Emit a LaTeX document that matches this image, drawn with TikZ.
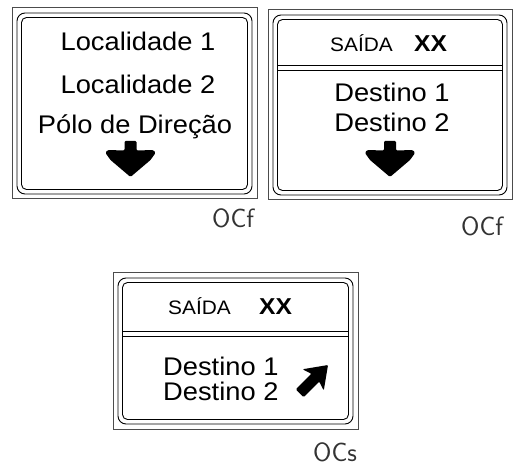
\documentclass[tikz,border=0pt]{standalone}
\usepackage{fontspec}
\setmainfont{Liberation Sans}
\newfontfamily\signfont[FakeStretch=1.07]{Liberation Sans}
\newcommand\signframe[4]{%
  \draw[outerframe] (#1,#2) rectangle (#3,#4);
  \draw[innerline,rounded corners=8pt] (#1+5,#2+5) rectangle (#3-5,#4-5);
  \draw[innerline,rounded corners=5pt] (#1+9.5,#2+9.5) rectangle (#3-9.5,#4-9.5);
}
\newcommand\signdivider[3]{%
  \draw[innerline] (#1+9.5,#3) -- (#2-9.5,#3);
  \draw[innerline] (#1+9.5,#3+5.7) -- (#2-9.5,#3+5.7);
}
\newcommand\downarrowshape[1]{%
  \fill[rounded corners=1.2pt] (#1-6,141) -- (#1+6,141) -- (#1+6,150.5) -- (#1+23,150)
    -- (#1+25,153) -- (#1+20,160) -- (#1,177) -- (#1-20,160) -- (#1-25,153) -- (#1-23,150) -- (#1-6,150.5) -- cycle;
}
\begin{document}
\begin{tikzpicture}[x=1pt,y=-1pt,
  outerframe/.style={draw=black!70,line width=1pt},
  innerline/.style={draw=black,line width=0.9pt},
  bigtxt/.style={inner sep=0pt,anchor=base,font=\signfont\fontsize{25.5}{30}\selectfont},
  midtxt/.style={inner sep=0pt,font=\signfont\fontsize{19.5}{24}\selectfont},
  boldtxt/.style={inner sep=0pt,font=\signfont\fontsize{23}{26}\selectfont\bfseries},
  octxt/.style={inner sep=0pt,anchor=base west,text=black!80,font=\sffamily\fontsize{26.5}{30}\selectfont\addfontfeature{LetterSpace=22}}]
\useasboundingbox (0,0) rectangle (520,465);
% panel 1
\signframe{12}{8}{257}{199}
\node[bigtxt] (loc1) at (138,50.5) {Localidade 1};
\node[bigtxt] (loc2) at (138,94) {Localidade 2};
\node[bigtxt] (polo) at (135,134) {Pólo de Direção};
\downarrowshape{130.5}
\node[octxt] (oc1) at (212,228) {OCf};
% panel 2
\signframe{268}{10}{512}{200}
\signdivider{268}{512}{65}
\node[midtxt,anchor=base east] (s2) at (393,52) {SAÍDA};
\node[boldtxt,anchor=base west] (x2) at (414,52) {XX};
\node[bigtxt] (d21) at (392,102) {Destino 1};
\node[bigtxt] (d22) at (392,132) {Destino 2};
\downarrowshape{390}
\node[octxt] (oc2) at (461,236) {OCf};
% panel 3
\signframe{113}{273}{358}{429}
\signdivider{113}{358}{331}
\node[midtxt,anchor=base west] (s3) at (168,315) {SAÍDA};
\node[boldtxt,anchor=base west] (x3) at (259,315) {XX};
\node[bigtxt,anchor=base west] (d31) at (163,375) {Destino 1};
\node[bigtxt,anchor=base west] (d32) at (163,400) {Destino 2};
\begin{scope}[shift={(328,365)},rotate=45]
  \fill[rounded corners=1pt] (0,0) -- (-21,15) -- (-18,5.5) -- (-40,5.5) -- (-40,-5.5) -- (-18,-5.5) -- (-21,-15) -- cycle;
\end{scope}
\node[octxt] (oc3) at (313,461) {OCs};
\end{tikzpicture}
\end{document}
